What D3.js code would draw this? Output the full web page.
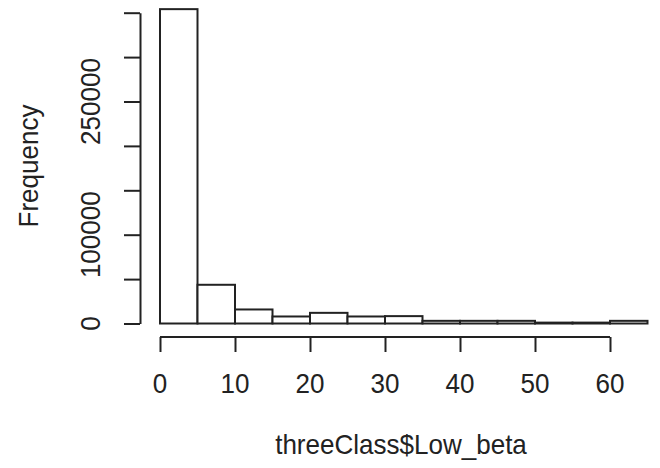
<!DOCTYPE html>
<html>
<head>
<meta charset="utf-8">
<script src="https://cdn.jsdelivr.net/npm/d3@7"></script>
<style>
  body { margin: 0; background: #fff; }
  svg text { font-family: "Liberation Sans", Arial, sans-serif; fill: #222; }
</style>
</head>
<body>
<div id="chart"></div>
<script>
// histogram bins (width 5) and counts
const binStarts = [0, 5, 10, 15, 20, 25, 30, 35, 40, 45, 50, 55, 60];
const binWidth = 5;
const counts = [354000, 43600, 15800, 7900, 12000, 7900, 8300, 3000, 3000, 3000, 1000, 1000, 3000];
const xTicks = [0, 10, 20, 30, 40, 50, 60];
const yTicks = [0, 50000, 100000, 150000, 200000, 250000, 300000, 350000];
const yTickLabels = [0, 100000, 250000];
const xTitle = "threeClass$Low_beta";
const yTitle = "Frequency";

const width = 660, height = 468;
const ink = "#222";

const svg = d3.select("#chart").append("svg")
  .attr("width", width)
  .attr("height", height);

const x = d3.scaleLinear().domain([0, 65]).range([160, 647.5]);
const y = d3.scaleLinear().domain([0, 350000]).range([323.5, 12.7]);

// bars
svg.append("g")
  .selectAll("rect")
  .data(binStarts)
  .join("rect")
  .attr("x", (d) => x(d))
  .attr("y", (d, i) => y(counts[i]))
  .attr("width", (d) => x(d + binWidth) - x(d))
  .attr("height", (d, i) => y(0) - y(counts[i]))
  .attr("fill", "#fff")
  .attr("stroke", ink)
  .attr("stroke-width", 2);

// x axis (R style: line spans first to last tick)
const xAxisY = 337;
const xAxis = svg.append("g")
  .attr("transform", `translate(0,${xAxisY})`)
  .call(d3.axisBottom(x).tickValues(xTicks).tickSize(15).tickFormat(""));
xAxis.select(".domain").remove();
xAxis.selectAll(".tick line").attr("stroke", ink).attr("stroke-width", 2);
xAxis.append("line")
  .attr("x1", x(xTicks[0]))
  .attr("x2", x(xTicks[xTicks.length - 1]))
  .attr("stroke", ink)
  .attr("stroke-width", 2);

svg.append("g")
  .selectAll("text")
  .data(xTicks)
  .join("text")
  .attr("transform", (d) => `translate(${x(d)},393) scale(0.93,1)`)
  .attr("text-anchor", "middle")
  .style("font-size", "28px")
  .text((d) => d);

// y axis
const yAxisX = 140;
const yAxis = svg.append("g")
  .attr("transform", `translate(${yAxisX},0)`)
  .call(d3.axisLeft(y).tickValues(yTicks).tickSize(16).tickSizeOuter(0).tickFormat(""));
yAxis.select(".domain").attr("stroke", ink).attr("stroke-width", 2);
yAxis.selectAll(".tick line").attr("stroke", ink).attr("stroke-width", 2);

svg.append("g")
  .selectAll("text")
  .data(yTickLabels)
  .join("text")
  .attr("transform", (d) => `translate(100,${y(d)}) rotate(-90) scale(0.93,1)`)
  .attr("text-anchor", "middle")
  .style("font-size", "28px")
  .text((d) => d);

// titles
svg.append("text")
  .attr("transform", "translate(401,454) scale(0.93,1)")
  .attr("text-anchor", "middle")
  .style("font-size", "28px")
  .text(xTitle);

svg.append("text")
  .attr("transform", "translate(38,166) rotate(-90) scale(0.93,1)")
  .attr("text-anchor", "middle")
  .style("font-size", "28px")
  .text(yTitle);
</script>
</body>
</html>
